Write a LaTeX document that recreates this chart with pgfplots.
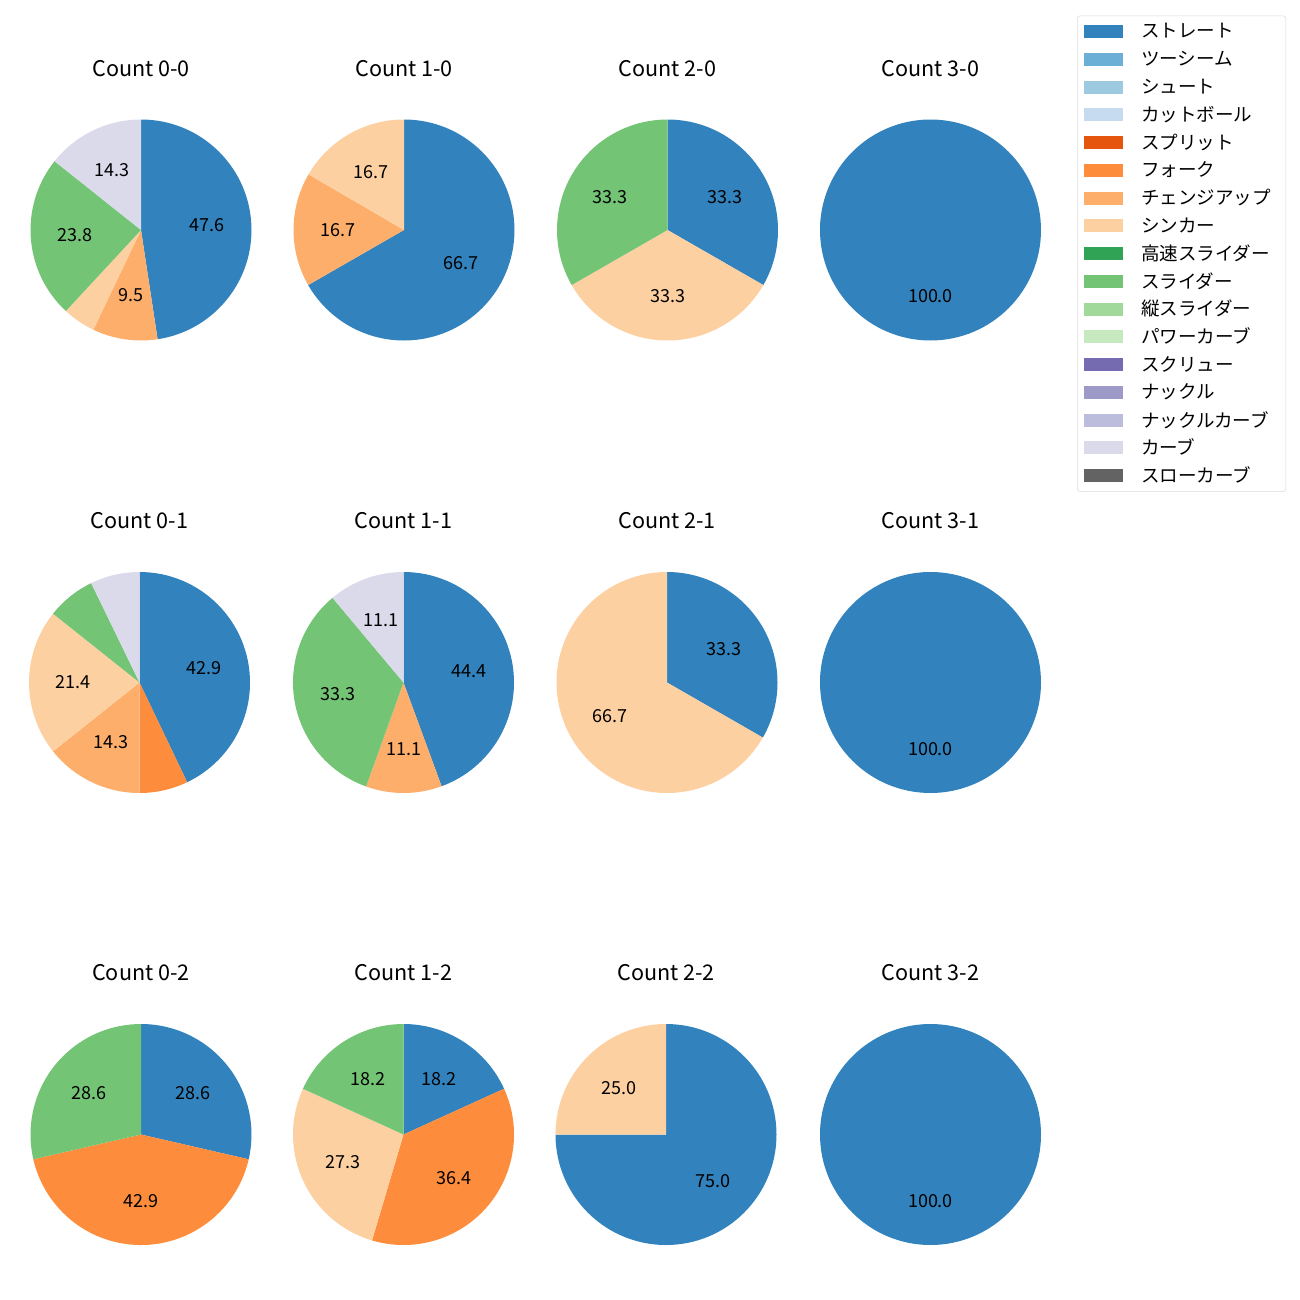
\documentclass[border=0pt]{standalone}
\usepackage{pgfplots}
\pgfplotsset{compat=1.18}
\usepackage{fontspec}
\setmainfont{Noto Sans CJK JP}
\definecolor{cST}{HTML}{3182BD}
\definecolor{cTS}{HTML}{6BAED6}
\definecolor{cSH}{HTML}{9ECAE1}
\definecolor{cCT}{HTML}{C6DBEF}
\definecolor{cSP}{HTML}{E6550D}
\definecolor{cFK}{HTML}{FD8D3C}
\definecolor{cCH}{HTML}{FDAE6B}
\definecolor{cSI}{HTML}{FDD0A2}
\definecolor{cHS}{HTML}{31A354}
\definecolor{cSL}{HTML}{74C476}
\definecolor{cVS}{HTML}{A1D99B}
\definecolor{cPC}{HTML}{C7E9C0}
\definecolor{cSC}{HTML}{756BB1}
\definecolor{cKN}{HTML}{9E9AC8}
\definecolor{cKC}{HTML}{BCBDDC}
\definecolor{cCU}{HTML}{DADAEB}
\definecolor{cSC2}{HTML}{636363}
\newcommand{\lbl}{\fontsize{13}{15}\selectfont}
\newcommand{\lgd}{\fontsize{13.4}{15}\selectfont}
\newcommand{\ttl}{\fontsize{15.6}{18}\selectfont}
% start (cumulative %), share (%), colour, label
\newcommand{\slice}[4]{%
  \fill[#3] (axis cs:0,0) -- (axis cs:{cos(90-3.6*(#1))},{sin(90-3.6*(#1))})
     arc[start angle={90-3.6*(#1)}, end angle={90-3.6*(#1+#2)}, radius=1.105in] -- cycle;
  \node[font=\lbl] at (axis cs:{0.6*cos(90-3.6*(#1+0.5*#2))},{0.6*sin(90-3.6*(#1+0.5*#2))}) {#4};
}
\newcommand{\ptitle}[1]{\node[font=\ttl] at (axis cs:0,1.4615) {#1};}
\pgfplotsset{pie/.style={hide axis, xmin=-1, xmax=1, ymin=-1, ymax=1,
  width=2.21in, height=2.21in, scale only axis, anchor=center, clip=false}}
\begin{document}
\begin{tikzpicture}
\path[use as bounding box] (0,0) rectangle (13in,-13in);
% ---------- row 1 ----------
\begin{axis}[pie, at={(1.41in,-2.30in)}]
\slice{0}{47.6}{cST}{47.6}
\slice{47.6}{9.5}{cCH}{9.5}
\slice{57.1}{4.8}{cSI}{}
\slice{61.9}{23.8}{cSL}{23.8}
\slice{85.7}{14.3}{cCU}{14.3}
\ptitle{Count 0-0}
\end{axis}
\begin{axis}[pie, at={(4.04in,-2.30in)}]
\slice{0}{66.7}{cST}{66.7}
\slice{66.7}{16.7}{cCH}{16.7}
\slice{83.4}{16.6}{cSI}{16.7}
\ptitle{Count 1-0}
\end{axis}
\begin{axis}[pie, at={(6.675in,-2.30in)}]
\slice{0}{33.3}{cST}{33.3}
\slice{33.3}{33.4}{cSI}{33.3}
\slice{66.7}{33.3}{cSL}{33.3}
\ptitle{Count 2-0}
\end{axis}
\begin{axis}[pie, at={(9.305in,-2.30in)},
  legend style={at={(axis description cs:1.163,1.4706)}, anchor=north west,
    draw=black!15, rounded corners=2pt, fill=white, font=\lgd,
    inner xsep=0.07in, inner ysep=0.02in, column sep=0.18in, row sep=0pt,
    nodes={inner xsep=0pt, inner ysep=0pt, minimum height=0.2775in}},
  legend cell align=left,
  legend image code/.code={\fill[#1, draw=none, sharp corners] (0in,-0.065in) rectangle (0.387in,0.065in);}]
\addlegendimage{fill=cST}\addlegendentry{ストレート}
\addlegendimage{fill=cTS}\addlegendentry{ツーシーム}
\addlegendimage{fill=cSH}\addlegendentry{シュート}
\addlegendimage{fill=cCT}\addlegendentry{カットボール}
\addlegendimage{fill=cSP}\addlegendentry{スプリット}
\addlegendimage{fill=cFK}\addlegendentry{フォーク}
\addlegendimage{fill=cCH}\addlegendentry{チェンジアップ\rule{0.08in}{0pt}}
\addlegendimage{fill=cSI}\addlegendentry{シンカー}
\addlegendimage{fill=cHS}\addlegendentry{高速スライダー}
\addlegendimage{fill=cSL}\addlegendentry{スライダー}
\addlegendimage{fill=cVS}\addlegendentry{縦スライダー}
\addlegendimage{fill=cPC}\addlegendentry{パワーカーブ}
\addlegendimage{fill=cSC}\addlegendentry{スクリュー}
\addlegendimage{fill=cKN}\addlegendentry{ナックル}
\addlegendimage{fill=cKC}\addlegendentry{ナックルカーブ}
\addlegendimage{fill=cCU}\addlegendentry{カーブ}
\addlegendimage{fill=cSC2}\addlegendentry{スローカーブ}
\slice{0}{100}{cST}{100.0}
\ptitle{Count 3-0}
\end{axis}
% ---------- row 2 ----------
\begin{axis}[pie, at={(1.395in,-6.825in)}]
\slice{0}{42.9}{cST}{42.9}
\slice{42.9}{7.1}{cFK}{}
\slice{50.0}{14.3}{cCH}{14.3}
\slice{64.3}{21.4}{cSI}{21.4}
\slice{85.7}{7.1}{cSL}{}
\slice{92.8}{7.2}{cCU}{}
\ptitle{Count 0-1}
\end{axis}
\begin{axis}[pie, at={(4.035in,-6.825in)}]
\slice{0}{44.4}{cST}{44.4}
\slice{44.4}{11.1}{cCH}{11.1}
\slice{55.5}{33.4}{cSL}{33.3}
\slice{88.9}{11.1}{cCU}{11.1}
\ptitle{Count 1-1}
\end{axis}
\begin{axis}[pie, at={(6.67in,-6.825in)}]
\slice{0}{33.3}{cST}{33.3}
\slice{33.3}{66.7}{cSI}{66.7}
\ptitle{Count 2-1}
\end{axis}
\begin{axis}[pie, at={(9.305in,-6.825in)}]
\slice{0}{100}{cST}{100.0}
\ptitle{Count 3-1}
\end{axis}
% ---------- row 3 ----------
\begin{axis}[pie, at={(1.41in,-11.345in)}]
\slice{0}{28.6}{cST}{28.6}
\slice{28.6}{42.8}{cFK}{42.9}
\slice{71.4}{28.6}{cSL}{28.6}
\ptitle{Count 0-2}
\end{axis}
\begin{axis}[pie, at={(4.035in,-11.345in)}]
\slice{0}{18.2}{cST}{18.2}
\slice{18.2}{36.4}{cFK}{36.4}
\slice{54.6}{27.2}{cSI}{27.3}
\slice{81.8}{18.2}{cSL}{18.2}
\ptitle{Count 1-2}
\end{axis}
\begin{axis}[pie, at={(6.66in,-11.345in)}]
\slice{0}{75}{cST}{75.0}
\slice{75}{25}{cSI}{25.0}
\ptitle{Count 2-2}
\end{axis}
\begin{axis}[pie, at={(9.305in,-11.345in)}]
\slice{0}{100}{cST}{100.0}
\ptitle{Count 3-2}
\end{axis}
\end{tikzpicture}
\end{document}
